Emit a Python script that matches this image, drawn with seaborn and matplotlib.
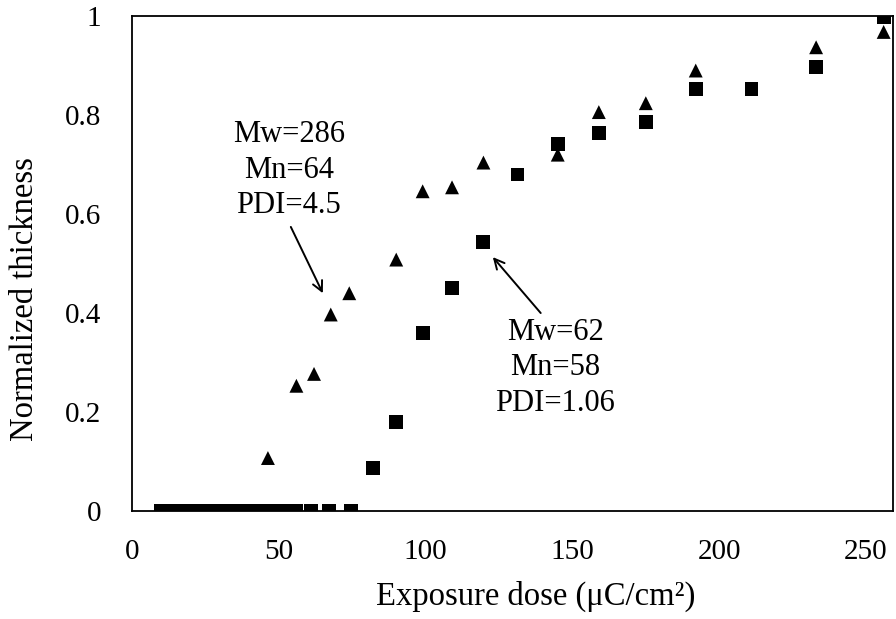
import matplotlib
matplotlib.use("Agg")
import matplotlib.pyplot as plt
import seaborn as sns
import pandas as pd

# Data: Mw=286 (triangles) and Mw=62 (squares)
dose_tri = [10, 11, 12, 13, 14, 15, 16, 17, 18, 19, 20, 22, 24, 26, 28, 30, 33, 36, 39, 42,
            46.3, 56, 62, 67.7, 74, 90, 99, 109, 119.7, 145, 159, 175, 192, 233, 256]
thick_tri = [0] * 20 + [0.107, 0.253, 0.277, 0.397, 0.44, 0.508, 0.646, 0.654, 0.704,
                        0.72, 0.806, 0.824, 0.89, 0.937, 0.968]

dose_sq = [10, 12, 14, 16, 18, 20, 22, 24, 26, 28, 30, 33, 36, 39, 42,
           46.3, 51, 56, 61, 67, 74.5, 82, 90, 99, 109, 119.7, 131.3, 145, 159, 175,
           192, 211, 233, 256]
thick_sq = [0] * 21 + [0.087, 0.18, 0.36, 0.45, 0.543, 0.68, 0.741, 0.763, 0.786,
                       0.852, 0.852, 0.897, 0.998]

series_names = ["Mw=286", "Mw=62"]
x_ticks = [0, 50, 100, 150, 200, 250]
y_ticks = [0, 0.2, 0.4, 0.6, 0.8, 1.0]
y_tick_labels = ["0", "0.2", "0.4", "0.6", "0.8", "1"]
label_286 = "Mw=286\nMn=64\nPDI=4.5"
label_62 = "Mw=62\nMn=58\nPDI=1.06"

df = pd.concat([
    pd.DataFrame({"dose": dose_tri, "thick": thick_tri, "series": series_names[0]}),
    pd.DataFrame({"dose": dose_sq, "thick": thick_sq, "series": series_names[1]}),
], ignore_index=True)

sns.set_theme(style="white")
plt.rcParams["font.family"] = ["Liberation Serif", "DejaVu Serif"]

fig = plt.figure(figsize=(8.96, 6.19), dpi=100)
ax = fig.add_axes([0.1473, 0.1745, 0.8494, 0.7995])

sns.scatterplot(data=df, x="dose", y="thick", style="series",
                markers={series_names[0]: "^", series_names[1]: "s"},
                color="black", s=100, linewidth=0, legend=False, ax=ax)

ax.set_xlim(0, 259.2)
ax.set_ylim(0, 1)
ax.set_xticks(x_ticks)
ax.set_xticklabels([str(t) for t in x_ticks])
ax.set_yticks(y_ticks)
ax.set_yticklabels(y_tick_labels)
ax.tick_params(axis="both", direction="in", length=6, width=1.2, labelsize=21,
               colors="black")
ax.tick_params(axis="y", pad=22)
ax.tick_params(axis="x", pad=20)
for sp in ax.spines.values():
    sp.set_visible(True)
    sp.set_color("black")
    sp.set_linewidth(1.3)

ax.set_xlabel("Exposure dose (μC/cm²)", fontsize=23.5, color="black")
ax.set_ylabel("Normalized thickness", fontsize=23.5, color="black")
ax.xaxis.set_label_coords(0.531, -0.142)
ax.yaxis.set_label_coords(-0.121, 0.428)

# annotation texts
ax.text(53.4, 0.689, label_286, ha="center", va="center", fontsize=22,
        linespacing=1.3, color="black")
ax.text(144.2, 0.289, label_62, ha="center", va="center", fontsize=22,
        linespacing=1.3, color="black")
# arrows
ax.annotate("", xy=(65.0, 0.440), xytext=(54.1, 0.574),
            arrowprops=dict(arrowstyle="->", color="black", lw=1.4,
                            shrinkA=0, shrinkB=0, mutation_scale=18))
ax.annotate("", xy=(122.9, 0.513), xytext=(139.2, 0.400),
            arrowprops=dict(arrowstyle="->", color="black", lw=1.4,
                            shrinkA=0, shrinkB=0, mutation_scale=18))

fig.savefig("out.png", dpi=100, facecolor="white")
